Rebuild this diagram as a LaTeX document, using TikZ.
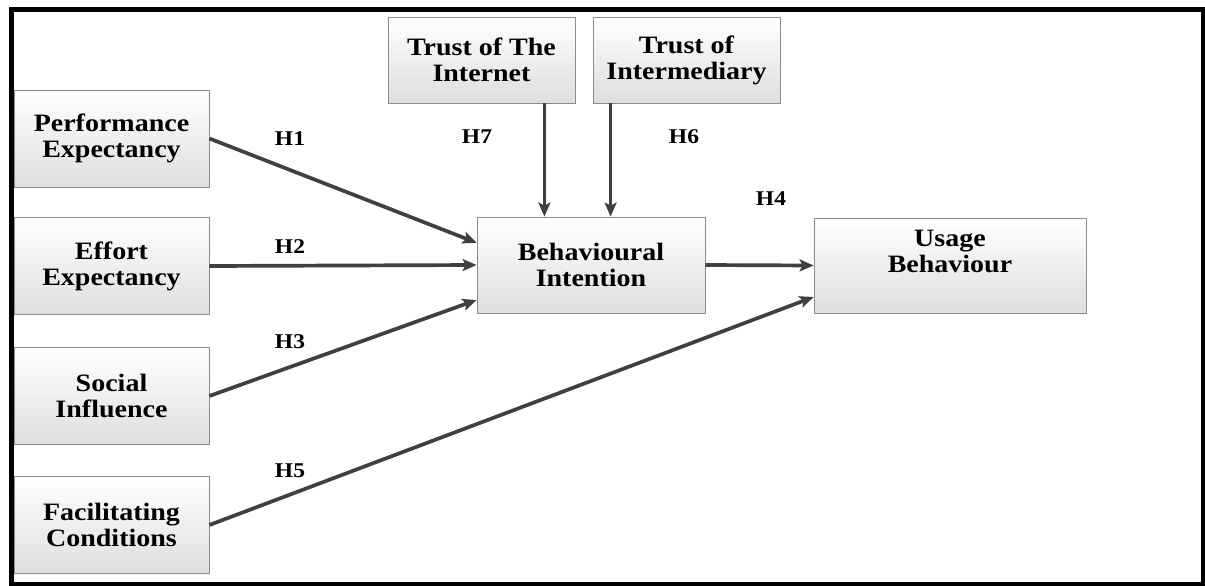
\documentclass[tikz,border=0pt]{standalone}
\usepackage{fontspec}
\newfontfamily\diagfont{Liberation Serif}[FakeStretch=1.12]
\usetikzlibrary{arrows.meta}
\definecolor{boxline}{RGB}{140,140,140}
\definecolor{boxshade}{RGB}{222,222,222}
\definecolor{arrowgray}{RGB}{64,64,64}
\tikzset{
  boxtext/.style = {align=center, font=\diagfont\bfseries\fontsize{25}{26}\selectfont},
  construct/.style = {rectangle, draw=boxline, thick, top color=white, bottom color=boxshade, inner sep=0pt, boxtext},
  hypo/.style = {draw=arrowgray, line width=3.7pt, -{Stealth[length=14pt,width=12pt,inset=3pt]}},
  hlabel/.style = {font=\diagfont\bfseries\fontsize{21}{21}\selectfont}
}

\begin{document}
\begin{tikzpicture}[x=1pt, y=-1pt]
\useasboundingbox (0,0) rectangle (1205,586);
% FRAME
\draw [line width=4.5pt] (11.5,9.5) rectangle (1203,584.5);
% CONSTRUCTS
\node [construct, minimum width=195pt, minimum height=97pt] (PE) at (111.5,138.5) {Performance\\Expectancy};
\node [construct, minimum width=195pt, minimum height=97pt] (EE) at (111.5,266) {Effort\\Expectancy};
\node [construct, minimum width=195pt, minimum height=97pt] (SI) at (111.5,396) {Social\\Influence};
\node [construct, minimum width=195pt, minimum height=97pt] (FC) at (111.5,525) {Facilitating\\Conditions};
\node [construct, minimum width=187pt, minimum height=86pt] (TI) at (481.5,60) {Trust of The\\Internet};
\node [construct, minimum width=187pt, minimum height=86pt] (TM) at (686.5,60) {Trust of\\Intermediary};
\node [construct, minimum width=228pt, minimum height=96pt] (BI) at (591,265) {Behavioural\\Intention};
\node [construct, minimum width=272pt, minimum height=95pt, label={[name=UB-Text, boxtext, yshift=14pt]center:Usage\\Behaviour}] (UB) at (950,265.5) {};
% PATHS
\draw [hypo] (PE.east) -- (BI.169);
\draw [hypo] (EE.east) -- (BI.west);
\draw [hypo] (SI.east) -- (BI.197);
\draw [hypo] ([xshift=-31pt]TI.south east) -- ([xshift=-31pt]TI.south east |- BI.north);
\draw [hypo] ([xshift=18pt]TM.south west) -- ([xshift=18pt]TM.south west |- BI.north);
\draw [hypo] (BI.east) -- (UB.west);
\draw [hypo] (FC.east) -- (UB.193);
% HYPOTHESES
\node [hlabel] (H1) at (290,139) {H1};
\node [hlabel] (H2) at (290,247) {H2};
\node [hlabel] (H3) at (290,342) {H3};
\node [hlabel] (H5) at (290,471) {H5};
\node [hlabel] (H7) at (477,137) {H7};
\node [hlabel] (H6) at (684,137) {H6};
\node [hlabel] (H4) at (771,199) {H4};
\end{tikzpicture}
\end{document}
